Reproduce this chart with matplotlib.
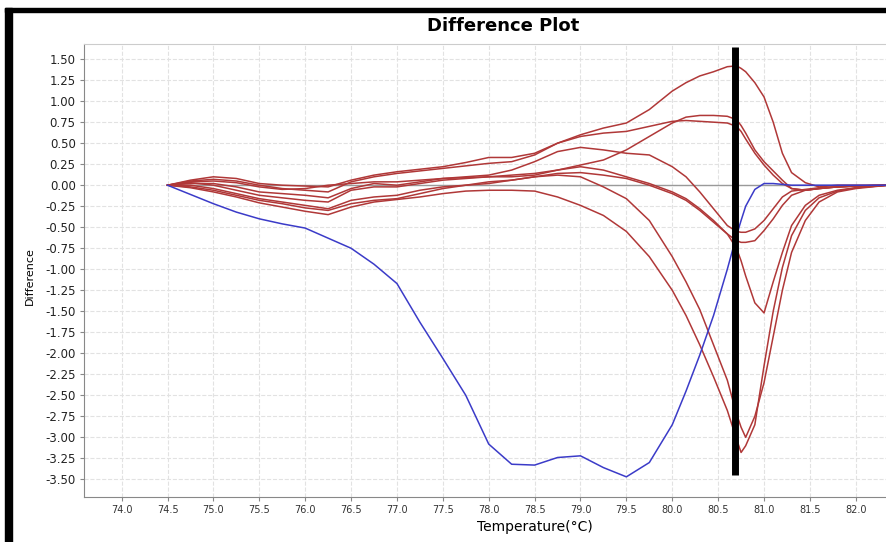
#Difference Plot
import numpy as np
import matplotlib.pyplot as plt
from matplotlib.patches import Rectangle
#==============================================================================================================
temp = [74.5, 74.75, 75.0, 75.25, 75.5, 75.75, 76.0, 76.25, 76.5, 76.75, 77.0, 77.25, 77.5, 77.75,
        78.0, 78.25, 78.5, 78.75, 79.0, 79.25, 79.5, 79.75, 80.0, 80.15, 80.3, 80.45, 80.6, 80.7,
        80.75, 80.8, 80.9, 81.0, 81.1, 81.2, 81.3, 81.45, 81.6, 81.8, 82.0, 82.35]

blue = [0, -0.11, -0.22, -0.32, -0.40, -0.46, -0.51, -0.63, -0.75, -0.94, -1.17, -1.63, -2.06, -2.50,
        -3.08, -3.32, -3.33, -3.24, -3.22, -3.36, -3.47, -3.30, -2.85, -2.45, -2.02, -1.55, -1.00, -0.60,
        -0.42, -0.25, -0.05, 0.02, 0.02, 0.01, 0.0, 0.0, 0.0, 0.0, 0.0, 0.0]

red_a = [0, 0.06, 0.10, 0.08, 0.02, 0.0, -0.01, -0.02, 0.06, 0.12, 0.16, 0.19, 0.22, 0.27,
         0.33, 0.33, 0.38, 0.50, 0.60, 0.68, 0.74, 0.90, 1.12, 1.22, 1.30, 1.35, 1.41, 1.42,
         1.39, 1.35, 1.22, 1.05, 0.75, 0.38, 0.15, 0.03, -0.02, 0.0, 0.0, 0.0]
red_b = [0, 0.02, 0.02, -0.02, -0.08, -0.10, -0.12, -0.15, -0.04, 0.02, 0.0, 0.04, 0.08, 0.09,
         0.10, 0.10, 0.12, 0.18, 0.24, 0.30, 0.42, 0.58, 0.74, 0.81, 0.83, 0.83, 0.82, 0.78,
         0.71, 0.62, 0.42, 0.28, 0.17, 0.06, -0.04, -0.06, -0.04, -0.02, -0.01, 0.0]
red_c = [0, 0.05, 0.07, 0.05, 0.0, -0.04, -0.06, -0.08, 0.04, 0.10, 0.14, 0.17, 0.20, 0.23,
         0.26, 0.28, 0.36, 0.50, 0.58, 0.62, 0.64, 0.70, 0.76, 0.77, 0.76, 0.75, 0.74, 0.70,
         0.64, 0.55, 0.38, 0.24, 0.12, 0.02, -0.04, -0.06, -0.04, -0.02, -0.01, 0.0]
red_d = [0, 0.04, 0.05, 0.03, -0.02, -0.05, -0.04, 0.0, 0.02, 0.04, 0.04, 0.06, 0.08, 0.10,
         0.12, 0.18, 0.28, 0.40, 0.45, 0.42, 0.38, 0.36, 0.22, 0.10, -0.08, -0.28, -0.48, -0.55,
         -0.56, -0.56, -0.52, -0.42, -0.28, -0.14, -0.07, -0.05, -0.03, -0.02, -0.01, 0.0]
red_e = [0, 0.03, 0.0, -0.06, -0.12, -0.15, -0.18, -0.20, -0.06, -0.02, -0.02, 0.02, 0.06, 0.08,
         0.10, 0.12, 0.14, 0.18, 0.22, 0.18, 0.10, 0.02, -0.08, -0.16, -0.28, -0.42, -0.58, -0.66,
         -0.68, -0.68, -0.66, -0.54, -0.40, -0.24, -0.12, -0.06, -0.04, -0.02, -0.01, 0.0]
red_f = [0, 0.0, -0.04, -0.10, -0.16, -0.20, -0.24, -0.28, -0.18, -0.14, -0.12, -0.06, -0.02, 0.0,
         0.02, 0.06, 0.10, 0.14, 0.15, 0.12, 0.08, 0.0, -0.10, -0.18, -0.30, -0.44, -0.58, -0.75,
         -0.90, -1.08, -1.40, -1.52, -1.15, -0.80, -0.48, -0.24, -0.12, -0.06, -0.03, 0.0]
red_g = [0, -0.03, -0.08, -0.14, -0.21, -0.26, -0.31, -0.35, -0.26, -0.20, -0.17, -0.14, -0.10, -0.07,
         -0.06, -0.06, -0.07, -0.14, -0.24, -0.36, -0.55, -0.85, -1.25, -1.55, -1.90, -2.28, -2.68, -3.02,
         -3.18, -3.10, -2.85, -2.15, -1.50, -0.98, -0.60, -0.30, -0.15, -0.07, -0.03, 0.0]
red_h = [0, -0.02, -0.06, -0.12, -0.18, -0.22, -0.27, -0.30, -0.22, -0.18, -0.16, -0.10, -0.04, 0.0,
         0.04, 0.06, 0.10, 0.12, 0.10, -0.02, -0.16, -0.42, -0.85, -1.15, -1.48, -1.90, -2.32, -2.72,
         -2.88, -3.00, -2.75, -2.35, -1.80, -1.25, -0.80, -0.42, -0.20, -0.08, -0.04, 0.0]
red_curves = [red_a, red_b, red_c, red_d, red_e, red_f, red_g, red_h]

marker_temp = 80.68
x_ticks = np.arange(74.0, 82.01, 0.5)
y_ticks = np.arange(-3.5, 1.51, 0.25)
#==============================================================================================================
fig = plt.figure(figsize=(8.87, 5.42), dpi=100)
ax = fig.add_axes([0.0947, 0.083, 0.9053, 0.8358])

ax.plot([74.5, 82.35], [0, 0], color='#9a9a9a', linewidth=1.0, zorder=2)
for r in red_curves:
    ax.plot(temp, r, color='#b03838', linewidth=1.1, zorder=3)
ax.plot(temp, blue, color='#3b3bc8', linewidth=1.1, zorder=4)
ax.plot([marker_temp, marker_temp], [1.64, -3.45], color='black', linewidth=5, solid_capstyle='butt', zorder=5)

ax.set_xlim(73.59, 82.34)
ax.set_ylim(-3.71, 1.68)
ax.set_xticks(x_ticks)
ax.set_yticks(y_ticks)
ax.set_xticklabels([f'{v:.1f}' for v in x_ticks], fontsize=7, color='#333333', family='Liberation Sans Narrow')
ax.set_yticklabels([f'{v:.2f}' for v in y_ticks], fontsize=8.5, color='#222222')
ax.tick_params(axis='both', length=3, color='#888888', pad=3)
ax.grid(True, color='#e2e2e2', linestyle='--', linewidth=0.8)
ax.set_axisbelow(True)
for s in ['left', 'bottom']:
    ax.spines[s].set_color('#888888')
ax.spines['top'].set_color('#cccccc')
ax.spines['right'].set_visible(False)

# labels and head
fig.text(0.567, 0.952, 'Difference Plot', ha='center', va='center', fontsize=13, fontweight='bold')
fig.text(0.034, 0.49, 'Difference', ha='center', va='center', rotation=90, fontsize=8)
fig.text(0.603, 0.027, 'Temperature(\u00b0C)', ha='center', va='center', fontsize=10)

# black frame of the screenshot
fig.patches.append(Rectangle((0.0056, 0.0), 0.0079, 0.985, transform=fig.transFigure, color='black', zorder=10))
fig.patches.append(Rectangle((0.0056, 0.977), 0.9944, 0.008, transform=fig.transFigure, color='black', zorder=10))

fig.savefig('out.png', dpi=100)
